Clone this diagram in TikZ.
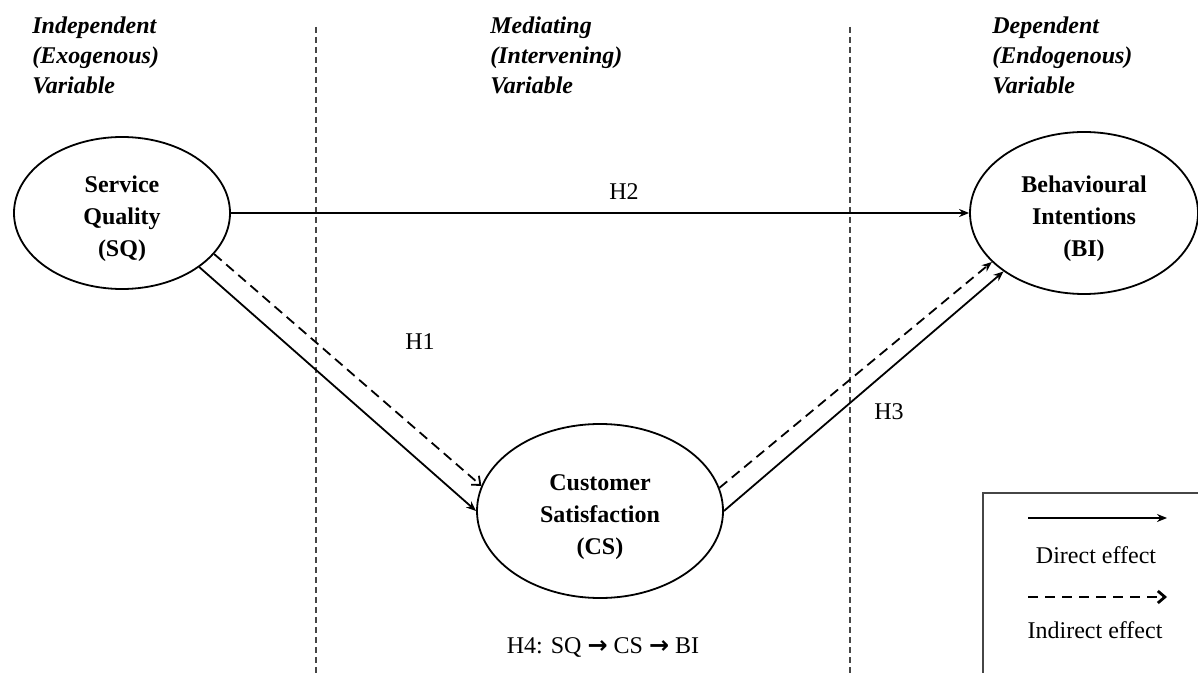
\documentclass[tikz,border=0pt]{standalone}
\usepackage{fontspec}
\setmainfont{Liberation Serif}
\newfontfamily\arrowglyph{DejaVu Sans}
\usepackage{tikz}
\usetikzlibrary{shapes.geometric, arrows.meta, positioning}
\definecolor{guidegray}{RGB}{70, 70, 70}
\newcommand{\toprow}{\rule{0pt}{14pt}}

\begin{document}
\begin{tikzpicture}[
    x=0.5pt, y=-0.5pt,
    latent/.style={draw, ellipse, line width=0.9pt, inner sep=0pt,
                   align=center, font=\fontsize{12}{15.8}\selectfont\bfseries},
    header/.style={anchor=west, align=left, inner sep=0pt,
                   font=\fontsize{12}{15}\selectfont\bfseries\itshape},
    hyp/.style={font=\fontsize{12}{14}\selectfont},
    direct/.style={-{Stealth[length=5pt, width=4pt]}, line width=0.9pt},
    indirect/.style={-{Stealth[length=5pt, width=4pt]}, line width=0.9pt,
                     dash pattern=on 5pt off 3pt},
    openind/.style={-{Straight Barb[length=3.5pt, width=6pt]}, line width=0.9pt,
                    dash pattern=on 5pt off 3pt},
    divider/.style={guidegray, line width=0.8pt, dash pattern=on 3pt off 2pt},
    legendbox/.style={draw=guidegray, line width=0.8pt},
]
    \clip (0,0) rectangle (1198,673);

    \node[header] (indep) at (32,55) {Independent\\(Exogenous)\\Variable};
    \node[header] (medi) at (490,55) {Mediating\\(Intervening)\\Variable};
    \node[header] (dep) at (992,55) {Dependent\\(Endogenous)\\Variable};

    \coordinate (d1top) at (316,27);
    \coordinate (d1bot) at (316,673);
    \coordinate (d2top) at (850,27);
    \coordinate (d2bot) at (850,673);
    \draw[divider] (d1top) -- (d1bot);
    \draw[divider] (d2top) -- (d2bot);

    \node[latent, minimum width=108pt, minimum height=76pt] (sq) at (122,213)
        {\toprow Service\\Quality\\(SQ)};
    \node[latent, minimum width=114pt, minimum height=81pt] (bi) at (1084,213)
        {\toprow Behavioural\\Intentions\\(BI)};
    \node[latent, minimum width=123pt, minimum height=87pt] (cs) at (600,511)
        {\toprow Customer\\Satisfaction\\(CS)};

    \draw[direct] (sq.east) -- (bi.west);
    \draw[direct] (sq.-35) -- (cs.180);
    \draw[openind] (sq.-24) -- (cs.168);
    \draw[direct] (cs.0) -- (bi.216);
    \draw[indirect] (cs.11) -- (bi.208);

    \node[hyp] (h1) at (420,342) {H1};
    \node[hyp] (h2) at (624,192) {H2};
    \node[hyp] (h3) at (889,412) {H3};
    \node[hyp] (h4) at (603,647)
        {H4: SQ {\arrowglyph\bfseries →} CS {\arrowglyph\bfseries →} BI};

    \draw[legendbox] (983,493) rectangle (1220,700);
    \coordinate (ds) at (1028,518);
    \coordinate (de) at (1167,518);
    \coordinate (is) at (1028,597);
    \coordinate (ie) at (1167,597);
    \draw[direct] (ds) -- (de);
    \draw[-{Straight Barb[length=3.5pt, width=6pt, line width=1.4pt]},
          line width=0.9pt, dash pattern=on 5pt off 3.5pt] (is) -- (ie);
    \node[hyp] (direct) at (1096,555) {Direct effect};
    \node[hyp] (indirect) at (1095,630) {Indirect effect};
\end{tikzpicture}
\end{document}
